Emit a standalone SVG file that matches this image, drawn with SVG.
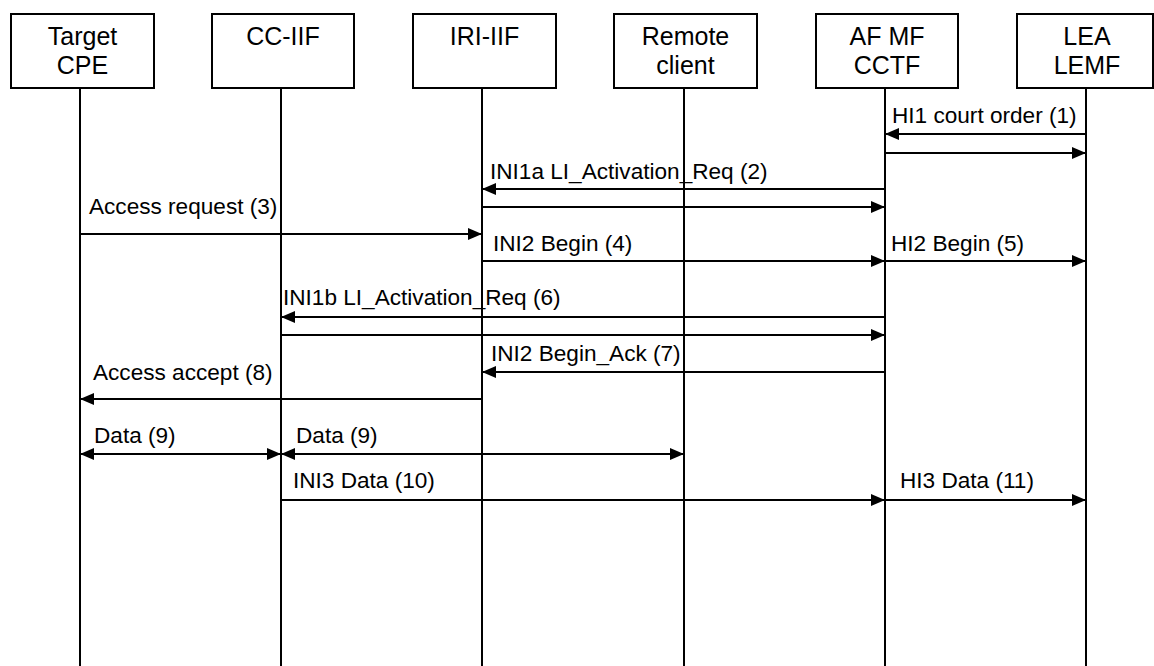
<svg xmlns="http://www.w3.org/2000/svg" width="1154" height="666" viewBox="0 0 1154 666">
<style>
.box{fill:#fff;stroke:#000;stroke-width:2}
.life{stroke:#000;stroke-width:2}
.hd{font-family:"Liberation Sans",Arial,sans-serif;font-size:25px;text-anchor:middle;fill:#000}
.lb{font-family:"Liberation Sans",Arial,sans-serif;font-size:22.6px;fill:#000}
.msg{stroke:#000;stroke-width:2;fill:none;marker-end:url(#ah)}
.bi{marker-start:url(#ah)}
</style>
<defs>
<marker id="ah" markerUnits="userSpaceOnUse" markerWidth="15" markerHeight="13" refX="14" refY="6" orient="auto-start-reverse">
<path d="M0,0 L14,6 L0,12 z" fill="#000"/>
</marker>
</defs>
<rect width="1154" height="666" fill="#fff"/>
<g id="target">
<line class="life" x1="80" y1="88" x2="80" y2="666"/>
<rect class="box" x="11" y="14" width="143" height="74"/>
<text class="hd" x="82.5" y="45">Target</text>
<text class="hd" x="82.5" y="74">CPE</text>
</g>
<g id="cciif">
<line class="life" x1="281" y1="88" x2="281" y2="666"/>
<rect class="box" x="212" y="14" width="142" height="74"/>
<text class="hd" x="283" y="45">CC-IIF</text>
</g>
<g id="iriiif">
<line class="life" x1="482" y1="88" x2="482" y2="666"/>
<rect class="box" x="413" y="14" width="143" height="74"/>
<text class="hd" x="484.5" y="45">IRI-IIF</text>
</g>
<g id="remote">
<line class="life" x1="684" y1="88" x2="684" y2="666"/>
<rect class="box" x="614" y="14" width="143" height="74"/>
<text class="hd" x="685.5" y="45">Remote</text>
<text class="hd" x="685.5" y="74">client</text>
</g>
<g id="afmf">
<line class="life" x1="885" y1="88" x2="885" y2="666"/>
<rect class="box" x="816" y="14" width="142" height="74"/>
<text class="hd" x="887" y="45">AF MF</text>
<text class="hd" x="887" y="74">CCTF</text>
</g>
<g id="lea">
<line class="life" x1="1086" y1="88" x2="1086" y2="666"/>
<rect class="box" x="1017" y="14" width="136" height="74"/>
<text class="hd" x="1087" y="45">LEA</text>
<text class="hd" x="1087" y="74">LEMF</text>
</g>
<g id="connectors">
<line class="msg" x1="1086" y1="134" x2="885" y2="134"/>
<text class="lb" x="892" y="123">HI1 court order (1)</text>
<line class="msg" x1="885" y1="153" x2="1086" y2="153"/>
<line class="msg" x1="885" y1="189" x2="482" y2="189"/>
<text class="lb" x="490" y="179">INI1a LI_Activation_Req (2)</text>
<line class="msg" x1="482" y1="207" x2="885" y2="207"/>
<line class="msg" x1="80" y1="234" x2="482" y2="234"/>
<text class="lb" x="89" y="214">Access request (3)</text>
<line class="msg" x1="482" y1="261" x2="885" y2="261"/>
<text class="lb" x="493" y="251">INI2 Begin (4)</text>
<line class="msg" x1="885" y1="261" x2="1086" y2="261"/>
<text class="lb" x="891" y="251">HI2 Begin (5)</text>
<line class="msg" x1="885" y1="317" x2="281" y2="317"/>
<text class="lb" x="283" y="305">INI1b LI_Activation_Req (6)</text>
<line class="msg" x1="281" y1="335" x2="885" y2="335"/>
<line class="msg" x1="885" y1="372" x2="482" y2="372"/>
<text class="lb" x="491" y="361">INI2 Begin_Ack (7)</text>
<line class="msg" x1="482" y1="399" x2="80" y2="399"/>
<text class="lb" x="93" y="380">Access accept (8)</text>
<line class="msg bi" x1="80" y1="454" x2="281" y2="454"/>
<text class="lb" x="94" y="443">Data (9)</text>
<line class="msg bi" x1="281" y1="454" x2="684" y2="454"/>
<text class="lb" x="296" y="443">Data (9)</text>
<line class="msg" x1="281" y1="500" x2="885" y2="500"/>
<text class="lb" x="293" y="488">INI3 Data (10)</text>
<line class="msg" x1="885" y1="500" x2="1086" y2="500"/>
<text class="lb" x="900" y="488">HI3 Data (11)</text>
</g>
</svg>
